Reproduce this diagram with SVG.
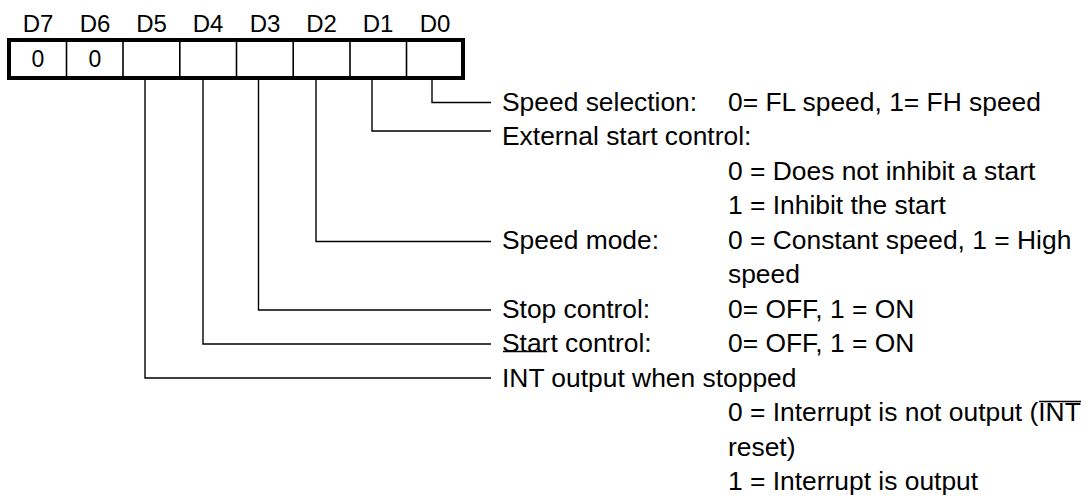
<svg xmlns="http://www.w3.org/2000/svg" width="1089" height="497" viewBox="0 0 1089 497">
<style>
  .lbl { font-family: "Liberation Sans", Arial, sans-serif; font-size: 24px; fill: #000; text-anchor: middle; }
  .bit { font-family: "Liberation Sans", Arial, sans-serif; font-size: 23px; fill: #000; text-anchor: middle; }
  .t { font-family: "Liberation Sans", Arial, sans-serif; font-size: 26.4px; fill: #000; }
  .conn { fill: none; stroke: #000; stroke-width: 1.4; }
  .ovl { stroke: #000; stroke-width: 1.4; }
</style>
<rect width="1089" height="497" fill="#fff"/>

<g id="register">
  <rect x="9" y="40" width="454" height="38" fill="#fff" stroke="#000" stroke-width="4"/>
  <g stroke="#000" stroke-width="1.6">
    <line x1="66.5" y1="40" x2="66.5" y2="78"/>
    <line x1="123" y1="40" x2="123" y2="78"/>
    <line x1="179.8" y1="40" x2="179.8" y2="78"/>
    <line x1="236.5" y1="40" x2="236.5" y2="78"/>
    <line x1="293.2" y1="40" x2="293.2" y2="78"/>
    <line x1="350" y1="40" x2="350" y2="78"/>
    <line x1="406.5" y1="40" x2="406.5" y2="78"/>
  </g>
  <text class="lbl" x="38" y="31.5">D7</text>
  <text class="lbl" x="95" y="31.5">D6</text>
  <text class="lbl" x="151.5" y="31.5">D5</text>
  <text class="lbl" x="208" y="31.5">D4</text>
  <text class="lbl" x="265" y="31.5">D3</text>
  <text class="lbl" x="321.5" y="31.5">D2</text>
  <text class="lbl" x="378" y="31.5">D1</text>
  <text class="lbl" x="435" y="31.5">D0</text>
  <text class="bit" x="38" y="67">0</text>
  <text class="bit" x="95" y="67">0</text>
</g>

<g id="connectors">
  <path class="conn" d="M432,80 V102.5 H491"/>
  <path class="conn" d="M372,80 V131 H491"/>
  <path class="conn" d="M316,80 V241.5 H491"/>
  <path class="conn" d="M258.5,80 V310 H491"/>
  <path class="conn" d="M203,80 V344 H491"/>
  <path class="conn" d="M145,80 V378 H491"/>
</g>

<g id="d0-speed-selection">
  <text class="t" x="502" y="110.5">Speed selection:</text>
  <text class="t" x="728" y="110.5">0= FL speed, 1= FH speed</text>
</g>

<g id="d1-external-start">
  <text class="t" x="502" y="145">External start control:</text>
  <text class="t" x="728" y="179.5">0 = Does not inhibit a start</text>
  <text class="t" x="728" y="214">1 = Inhibit the start</text>
</g>

<g id="d2-speed-mode">
  <text class="t" x="502" y="248.5">Speed mode:</text>
  <text class="t" x="728" y="248.5">0 = Constant speed, 1 = High</text>
  <text class="t" x="728" y="283">speed</text>
</g>

<g id="d3-stop-control">
  <text class="t" x="502" y="317.5">Stop control:</text>
  <text class="t" x="728" y="317.5">0= OFF, 1 = ON</text>
</g>

<g id="d4-start-control">
  <text class="t" x="502" y="352">Start control:</text>
  <text class="t" x="728" y="352">0= OFF, 1 = ON</text>
</g>

<g id="d5-int-output">
  <text class="t" x="502" y="386.5">INT output when stopped</text>
  <line class="ovl" x1="503" y1="351.5" x2="547" y2="351.5"/>
  <text class="t" x="728" y="421">0 = Interrupt is not output (INT</text>
  <line class="ovl" x1="1039" y1="401.5" x2="1081" y2="401.5"/>
  <text class="t" x="728" y="455.5">reset)</text>
  <text class="t" x="728" y="490">1 = Interrupt is output</text>
</g>
</svg>
